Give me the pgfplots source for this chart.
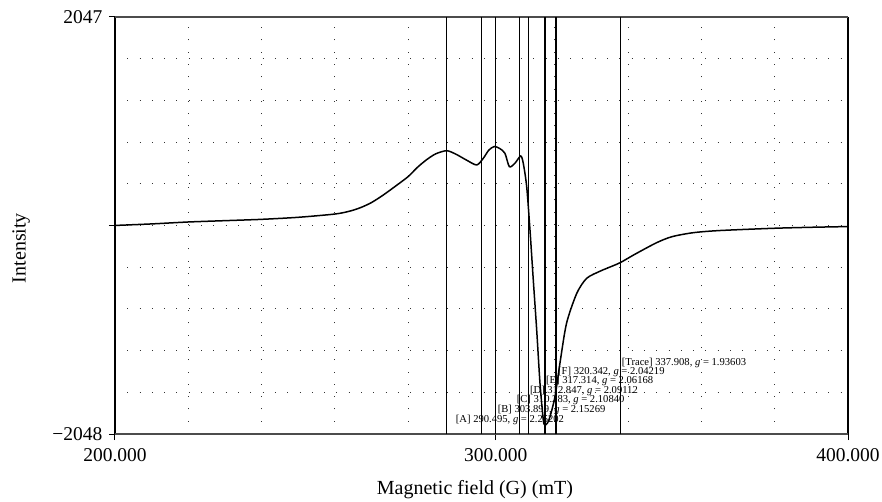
\documentclass[border=0pt]{standalone}
\usepackage{pgfplots}
\pgfplotsset{compat=1.18}
\usepackage{fontspec}
\setmainfont{Liberation Serif}
\begin{document}
\begin{tikzpicture}
\useasboundingbox (-115bp,-68bp) rectangle (767bp,434bp);
\begin{axis}[
  at={(0,0)}, anchor=south west,
  scale only axis, width=733bp, height=417bp,
  xmin=200, xmax=400, ymin=-2048, ymax=2047,
  xtick={200,303.9,400}, xticklabels={200.000,300.000,400.000},
  ytick={-2048,0,2047}, yticklabels={−2048,,2047},
  minor xtick={220,240,...,380},
  minor ytick={-1638.5,-1229,-819.5,-410,-0.5,409,818.5,1228,1637.5},
  minor tick length=0pt,
  major tick length=6bp,
  tick align=outside, xtick pos=bottom, ytick pos=left,
  tick style={black, line width=1bp},
  grid=minor,
  minor grid style={black!80, line width=1bp, dash pattern=on 1bp off 11.3bp},
  axis line style={draw=none},
  ticklabel style={font=\fontsize{19.5bp}{24bp}\selectfont},
  xticklabel style={yshift=-5bp},
  yticklabel style={xshift=-3bp},
  label style={font=\fontsize{20bp}{24bp}\selectfont},
  xlabel={Magnetic field (G) (mT)},
  ylabel={Intensity},
  xlabel style={at={(axis description cs:0.491,-0.134)}, anchor=center},
  ylabel style={at={(axis description cs:-0.128,0.446)}, anchor=center},
  clip=false,
]
% frame
\draw[black, line width=1.3bp] (rel axis cs:0,0) -- (rel axis cs:0,1);
\draw[black, line width=1.3bp] (rel axis cs:1,0) -- (rel axis cs:1,1);
\draw[black!70, line width=2bp] (rel axis cs:0,0) -- (rel axis cs:1,0);
\draw[black!70, line width=2bp] (rel axis cs:0,1) -- (rel axis cs:1,1);

% marker lines
\addplot[black, line width=1.2bp] coordinates {(290.495,-2048) (290.495,2047)};
\addplot[black, line width=1.2bp] coordinates {(300,-2048) (300,2047)};
\addplot[black, line width=1.2bp] coordinates {(303.899,-2048) (303.899,2047)};
\addplot[black, line width=1.2bp] coordinates {(310.283,-2048) (310.283,2047)};
\addplot[black, line width=1.2bp] coordinates {(312.847,-2048) (312.847,2047)};
\addplot[black, line width=1.2bp] coordinates {(317.314,-2048) (317.314,2047)};
\addplot[black, line width=1.2bp] coordinates {(320.342,-2048) (320.342,2047)};
\addplot[black, line width=1.2bp] coordinates {(337.908,-2048) (337.908,2047)};

% spectrum
\addplot[black, line width=1.5bp, smooth, tension=0.45] coordinates {
  (200,0) (210,15) (220,34) (230,47) (240,60) (250,80) (260,112)
  (264,140) (267,175) (270,225) (273.2,299) (276.5,385)
  (280,480) (282.5,570) (285,645) (287.5,703) (290.5,734)
  (293,700) (296,640) (298.7,594) (300.5,660) (302,740) (303.5,775)
  (305,755) (306.4,708) (307.6,577) (309.1,610) (310.7,682)
  (311.4,610) (312.33,381) (313.23,-45) (314.13,-536) (315.06,-1027)
  (315.96,-1550) (316.86,-1910) (317.3,-1960) (318,-1940)
  (318.7,-1878) (320.05,-1681) (321.4,-1354) (323.2,-961)
  (326.0,-666) (328.7,-519) (332.3,-450) (334.2,-421) (337.8,-366)
  (342,-280) (347.8,-169) (352,-110) (357.8,-71) (365,-50)
  (379.6,-28) (390,-18) (400,-11)
};

% annotations
\begin{scope}[every node/.style={anchor=west, inner sep=0pt, font=\fontsize{10.6bp}{12bp}\selectfont}]
\node at (axis cs:338.25,-1350) {[Trace] 337.908, \textit{g} = 1.93603};
\node at (axis cs:320.87,-1436) {[F] 320.342, \textit{g} = 2.04219};
\node at (axis cs:317.6,-1527) {[E] 317.314, \textit{g} = 2.06168};
\node at (axis cs:313.2,-1622) {[D] 312.847, \textit{g} = 2.09112};
\node at (axis cs:309.6,-1714) {[C] 310.283, \textit{g} = 2.10840};
\node at (axis cs:304.4,-1812) {[B] 303.899, \textit{g} = 2.15269};
\node at (axis cs:292.96,-1910) {[A] 290.495, \textit{g} = 2.25202};
\end{scope}
\end{axis}
\end{tikzpicture}
\end{document}
